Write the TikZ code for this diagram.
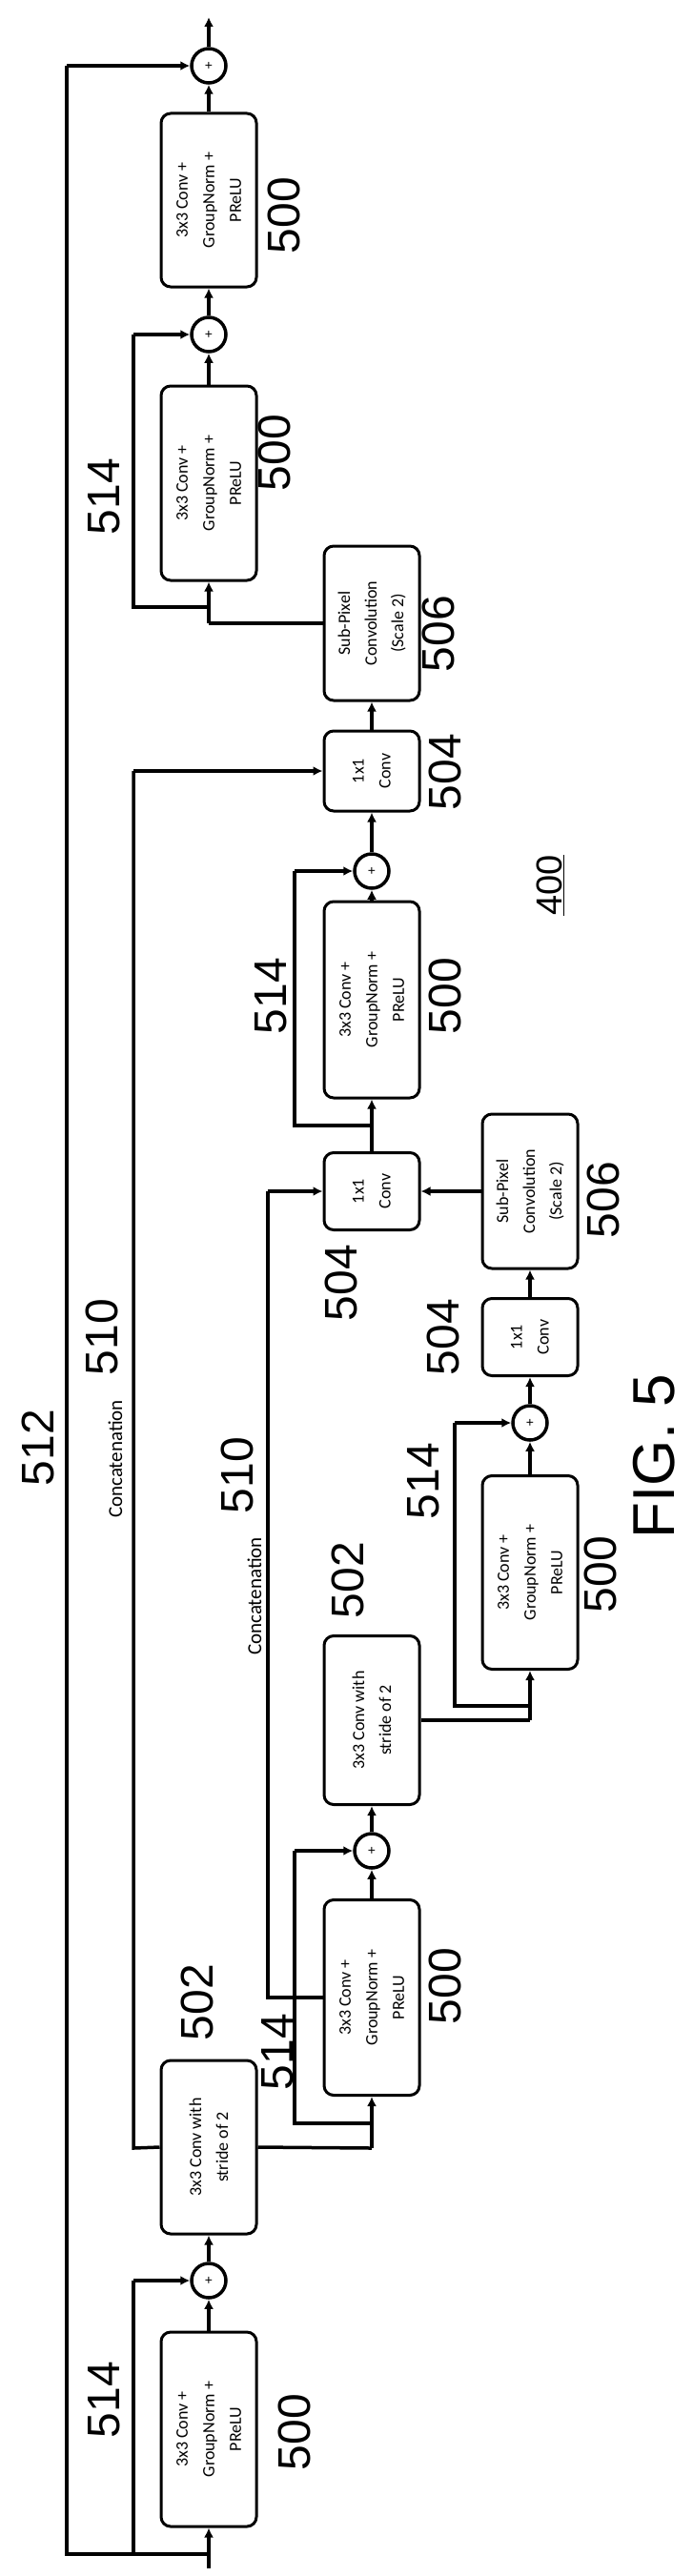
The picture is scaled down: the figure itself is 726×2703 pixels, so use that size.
\documentclass[tikz,border=0pt]{standalone}
\usepackage{fontspec}
\setmainfont{Liberation Sans}
\newfontfamily\boxfont{Carlito}
\usetikzlibrary{arrows.meta}
\begin{document}
\begin{tikzpicture}[x=1pt,y=-1pt,
  blk/.style={draw,line width=3pt,rounded corners=10pt,align=center,font=\boxfont\fontsize{18}{28}\selectfont,rotate=90,inner sep=0pt},
  pl/.style={draw,circle,line width=3.5pt,minimum size=36pt,inner sep=0pt,font=\fontsize{14}{14}\selectfont},
  ln/.style={line width=3.5pt},
  ar/.style={line width=3.5pt,-{Latex[length=10pt,width=10pt]}},
  num/.style={rotate=90,font=\fontsize{48}{48}\selectfont},
  cc/.style={rotate=90,font=\boxfont\fontsize{21}{21}\selectfont}]
\useasboundingbox (0,0) rectangle (726,2703);
% blocks (minimum width = vertical extent after rotation)
\node[blk,minimum width=182pt,minimum height=100pt] (A) at (219,210) {3x3 Conv +\\GroupNorm +\\PReLU};
\node[blk,minimum width=204pt,minimum height=100pt] (B) at (219,507) {3x3 Conv +\\GroupNorm +\\PReLU};
\node[blk,minimum width=162pt,minimum height=100pt] (C) at (390,654) {Sub-Pixel\\Convolution\\(Scale 2)};
\node[blk,minimum width=84pt,minimum height=100pt] (D) at (390,809) {1x1\\Conv};
\node[blk,minimum width=206pt,minimum height=100pt] (E) at (390,1049) {3x3 Conv +\\GroupNorm +\\PReLU};
\node[blk,minimum width=81pt,minimum height=100pt] (F) at (390,1250) {1x1\\Conv};
\node[blk,minimum width=162pt,minimum height=100pt] (G) at (556,1250) {Sub-Pixel\\Convolution\\(Scale 2)};
\node[blk,minimum width=81pt,minimum height=100pt] (H) at (556,1403) {1x1\\Conv};
\node[blk,minimum width=203pt,minimum height=100pt] (I) at (556,1650) {3x3 Conv +\\GroupNorm +\\PReLU};
\node[blk,minimum width=177pt,minimum height=100pt] (J) at (390,1805) {3x3 Conv with\\stride of 2};
\node[blk,minimum width=205pt,minimum height=100pt] (K) at (390,2096) {3x3 Conv +\\GroupNorm +\\PReLU};
\node[blk,minimum width=182pt,minimum height=100pt] (J2) at (219,2253) {3x3 Conv with\\stride of 2};
\node[blk,minimum width=204pt,minimum height=100pt] (L) at (219,2549) {3x3 Conv +\\GroupNorm +\\PReLU};
% adders
\node[pl] (P1) at (219,69) {+};
\node[pl] (P2) at (219,351) {+};
\node[pl] (P3) at (390,914) {+};
\node[pl] (P4) at (556,1493) {+};
\node[pl] (P5) at (390,1942) {+};
\node[pl] (P6) at (219,2393) {+};
% coordinates
\coordinate (in) at (219,2695);
\coordinate (out) at (219,18);
\coordinate (b0) at (219,2680);
\coordinate (b1) at (140,2680);
\coordinate (kj) at (390,2254);
\coordinate (ks) at (390,2228);
\coordinate (ij) at (556,1805);
\coordinate (is) at (556,1790);
\coordinate (es) at (390,1181);
\coordinate (bj) at (219,654);
\coordinate (bs) at (219,637);
% main path
\draw[ar] (in) -- (L.west);
\draw[ln] (b0) -- (70,2680) -- (70,69);
\draw[ar] (70,69) -- (P1);
\draw[ln] (b1) -- (140,2393);
\draw[ar] (140,2393) -- (P6);
\draw[ar] (L.east) -- (P6);
\draw[ar] (P6) -- (J2.west);
\draw[ln] (J2.south) -- (kj);
\draw[ar] (kj) -- (K.west);
\draw[ln] (ks) -- (309,2228) -- (309,1942);
\draw[ar] (309,1942) -- (P5);
\draw[ar] (K.east) -- (P5);
\draw[ar] (P5) -- (J.west);
\draw[ln] (J2.north) -- (140,2254) -- (140,809);
\draw[ar] (140,809) -- (D.north);
\draw[ln] (K.north) -- (281,2096) -- (281,1250);
\draw[ar] (281,1250) -- (F.north);
\draw[ln] (J.south) -- (ij);
\draw[ar] (ij) -- (I.west);
\draw[ln] (is) -- (477,1790) -- (477,1493);
\draw[ar] (477,1493) -- (P4);
\draw[ar] (I.east) -- (P4);
\draw[ar] (P4) -- (H.west);
\draw[ar] (H.east) -- (G.west);
\draw[ar] (G.north) -- (F.south);
\draw[ar] (F.east) -- (E.west);
\draw[ln] (es) -- (309,1181) -- (309,914);
\draw[ar] (309,914) -- (P3);
\draw[ar] (E.east) -- (P3);
\draw[ar] (P3) -- (D.west);
\draw[ar] (D.east) -- (C.west);
\draw[ln] (C.north) -- (bj);
\draw[ar] (bj) -- (B.west);
\draw[ln] (bs) -- (140,637) -- (140,351);
\draw[ar] (140,351) -- (P2);
\draw[ar] (B.east) -- (P2);
\draw[ar] (P2) -- (A.west);
\draw[ar] (A.east) -- (P1);
\draw[ar] (P1) -- (out);
% labels
\node[num] (l514a) at (109,521) {514};
\node[num] (l514b) at (284,1045) {514};
\node[num] (l514c) at (444,1554) {514};
\node[num] (l514d) at (291,2153) {514};
\node[num] (l514e) at (109,2518) {514};
\node[num] (l500a) at (298,226) {500};
\node[num] (l500b) at (288,475) {500};
\node[num] (l500c) at (467,1045) {500};
\node[num] (l500d) at (630,1652) {500};
\node[num] (l500e) at (467,2084) {500};
\node[num] (l500f) at (309,2552) {500};
\node[num] (l502a) at (365,1658) {502};
\node[num] (l502b) at (207,2101) {502};
\node[num] (l504a) at (467,810) {504};
\node[num] (l504b) at (358,1346) {504};
\node[num] (l504c) at (465,1403) {504};
\node[num] (l506a) at (460,665) {506};
\node[num] (l506b) at (633,1259) {506};
\node[cc] (c1) at (121,1531) {Concatenation};
\node[num] (l510a) at (107,1403) {510};
\node[cc] (c2) at (267,1675) {Concatenation};
\node[num] (l510b) at (249,1548) {510};
\node[num] (l512) at (40,1519) {512};
\node[rotate=90,font=\fontsize{38}{38}\selectfont] (l400) at (577,929) {\underline{400}};
\node[rotate=90,font=\fontsize{62}{62}\selectfont] (fig) at (686,1528) {FIG. 5};
\end{tikzpicture}
\end{document}
